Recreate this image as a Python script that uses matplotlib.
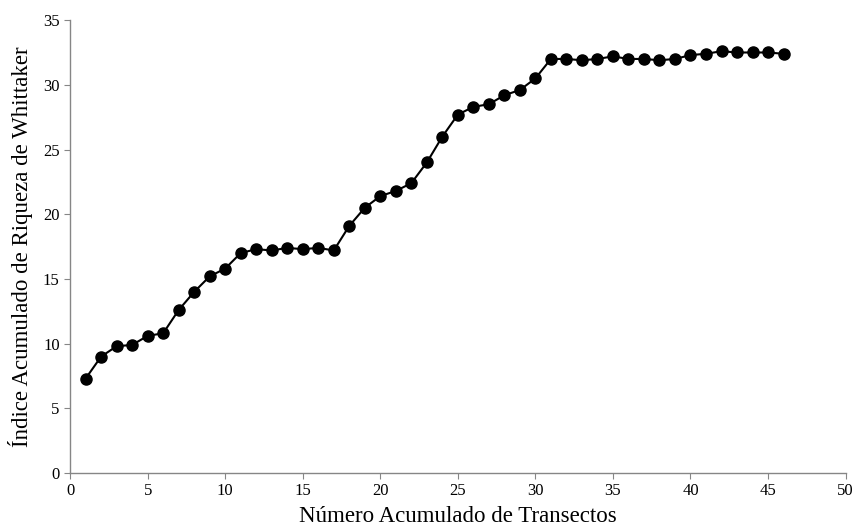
import matplotlib
matplotlib.use('Agg')
import matplotlib.pyplot as plt

# Dados
transectos = list(range(1, 47))
riqueza = [7.3, 9.0, 9.8, 9.9, 10.6, 10.8, 12.6, 14.0, 15.2, 15.8,
           17.0, 17.3, 17.2, 17.4, 17.3, 17.4, 17.2, 19.1, 20.5, 21.4,
           21.8, 22.4, 24.0, 26.0, 27.7, 28.3, 28.5, 29.2, 29.6, 30.5,
           32.0, 32.0, 31.9, 32.0, 32.2, 32.0, 32.0, 31.9, 32.0, 32.3,
           32.4, 32.6, 32.5, 32.5, 32.5, 32.4]

plt.rcParams['font.family'] = ['Liberation Serif', 'DejaVu Serif']

fig = plt.figure(figsize=(8.55, 5.3), dpi=100)
ax = fig.add_axes([0.082, 0.1075, 0.907, 0.8545])

ax.plot(transectos, riqueza, color='black', linewidth=1.5,
        marker='o', markersize=8)

ax.set_xlim(0, 50)
ax.set_ylim(0, 35)
ax.set_xticks(range(0, 51, 5))
ax.set_yticks(range(0, 36, 5))

for s in ['top', 'right']:
    ax.spines[s].set_visible(False)
for s in ['left', 'bottom']:
    ax.spines[s].set_color('#868686')
    ax.spines[s].set_linewidth(1)

ax.tick_params(direction='out', length=4, color='#868686', labelsize=12)
ax.set_xlabel('Número Acumulado de Transectos', fontsize=16.5, labelpad=5)
ax.set_ylabel('Índice Acumulado de Riqueza de Whittaker', fontsize=16.5, labelpad=7)

fig.savefig('out.png', dpi=100)
